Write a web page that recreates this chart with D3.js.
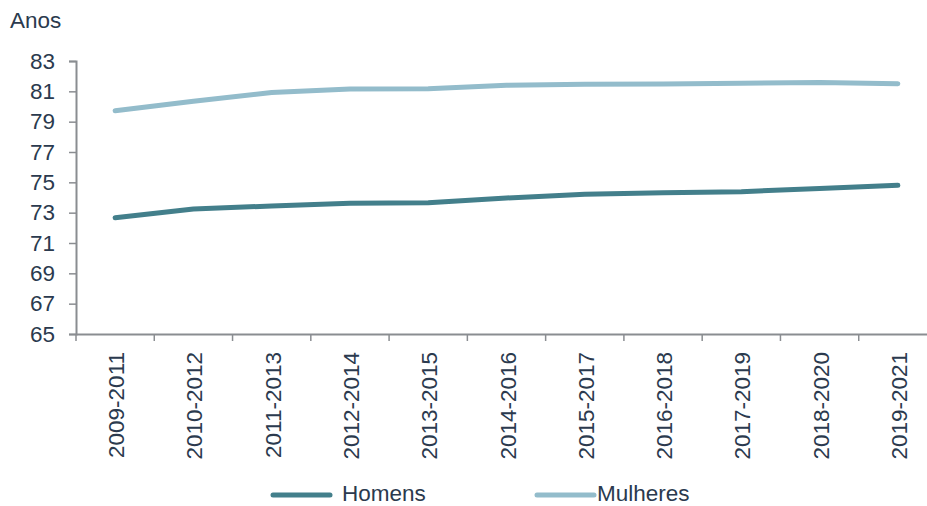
<!DOCTYPE html>
<html>
<meta charset="utf-8">
<script src="https://d3js.org/d3.v7.js"></script>
<style>
    body { margin: 0; background: #fff; }
    text { font-family: "Liberation Sans", Arial, sans-serif; fill: #2b3a4e; }
</style>
<body>
    <div id="chart"></div>
    <script>

        // data
        var periods = ["2009-2011", "2010-2012", "2011-2013", "2012-2014", "2013-2015", "2014-2016",
            "2015-2017", "2016-2018", "2017-2019", "2018-2020", "2019-2021"];
        var homens = [72.67, 73.24, 73.44, 73.62, 73.66, 73.97, 74.21, 74.32, 74.38, 74.60, 74.80];
        var mulheres = [79.72, 80.34, 80.93, 81.15, 81.17, 81.40, 81.46, 81.48, 81.53, 81.59, 81.50];
        var yTicks = [65, 67, 69, 71, 73, 75, 77, 79, 81, 83];

        var width = 927, height = 506;
        var fontSize = "22.5px";

        var svg = d3.select("#chart")
            .append("svg")
            .attr("width", width)
            .attr("height", height);

        // X scale (bands, ticks on the band edges)
        var x = d3.scaleBand()
            .domain(periods)
            .range([76, 937]);

        var y = d3.scaleLinear()
            .domain([65, 83])
            .range([334, 61]);

        // y axis
        var yAxis = svg.append("g")
            .attr("transform", "translate(76,0)")
            .call(d3.axisLeft(y).tickValues(yTicks).tickSize(7).tickPadding(14));
        yAxis.selectAll("text").style("font-size", fontSize);

        // x axis
        var xAxis = svg.append("g")
            .attr("transform", "translate(0,334)")
            .call(d3.axisBottom(x).tickSize(0).tickFormat(""));
        xAxis.selectAll(".tick").remove();

        // tick marks on band boundaries
        xAxis.selectAll("line.edge")
            .data(periods)
            .enter()
            .append("line")
            .attr("class", "edge")
            .attr("x1", function (d) { return x(d) })
            .attr("x2", function (d) { return x(d) })
            .attr("y1", 0)
            .attr("y2", 7);

        // rotated labels
        xAxis.selectAll("text.lab")
            .data(periods)
            .enter()
            .append("text")
            .attr("class", "lab")
            .attr("transform", function (d) {
                return "translate(" + (x(d) + x.bandwidth() / 2 + 9) + ",18) rotate(-90)";
            })
            .attr("text-anchor", "end")
            .style("font-size", fontSize)
            .text(function (d) { return d });

        svg.selectAll(".domain, line")
            .attr("stroke", "#8a8d91")
            .attr("stroke-width", 2);
        yAxis.selectAll("line").attr("stroke-width", 1.5);
        xAxis.selectAll("line.edge").attr("stroke-width", 1.5);
        svg.selectAll(".tick text").style("fill", "#2b3a4e");

        // axis title
        svg.append("text")
            .attr("x", 10)
            .attr("y", 28)
            .style("font-size", fontSize)
            .text("Anos");

        var line = d3.line()
            .x(function (d, i) { return x(periods[i]) + x.bandwidth() / 2 })
            .y(function (d) { return y(d) });

        var series = [
            { name: "Homens", values: homens, color: "#437f8b" },
            { name: "Mulheres", values: mulheres, color: "#93bccb" }
        ];

        svg.selectAll("path.series")
            .data(series)
            .enter()
            .append("path")
            .attr("class", "series")
            .attr("d", function (d) { return line(d.values) })
            .attr("fill", "none")
            .attr("stroke", function (d) { return d.color })
            .attr("stroke-width", 5)
            .attr("stroke-linecap", "round")
            .attr("stroke-linejoin", "round");

        // legend (kept just inside the bottom edge)
        var legendX = [273, 537];
        var legend = svg.selectAll("g.legend")
            .data(series)
            .enter()
            .append("g")
            .attr("class", "legend")
            .attr("transform", function (d, i) { return "translate(" + legendX[i] + ",495)" });
        legend.append("line")
            .attr("x1", 0).attr("x2", 57)
            .attr("y1", 0).attr("y2", 0)
            .attr("stroke", function (d) { return d.color })
            .attr("stroke-width", 5)
            .attr("stroke-linecap", "round");
        legend.append("text")
            .attr("x", function (d, i) { return i == 0 ? 69 : 60 })
            .attr("y", 6)
            .style("font-size", fontSize)
            .text(function (d) { return d.name });

    </script>
</body>
</html>
